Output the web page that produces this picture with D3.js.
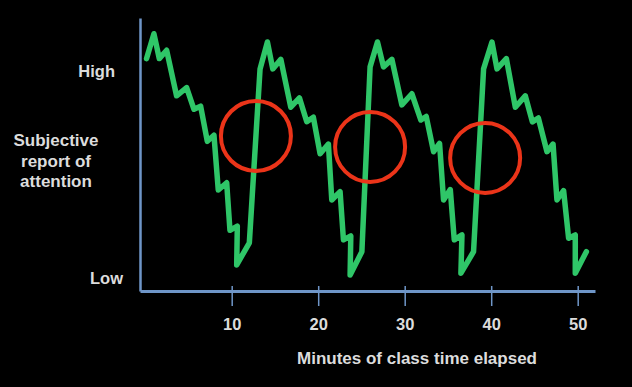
<!DOCTYPE html>
<html>
<head>
<meta charset="utf-8">
<script src="https://cdn.jsdelivr.net/npm/d3@7"></script>
<style>
  html, body { margin: 0; padding: 0; background: #000; }
  svg { display: block; }
  text { font-family: "Liberation Sans", Arial, sans-serif; font-weight: bold; fill: #dcdcdc; }
</style>
</head>
<body>
<div id="chart"></div>
<script>
// Attention over a class: minutes elapsed vs subjective attention (0 = Low, 100 = High)
const minutes = [
  0.16, 1.01, 1.63, 2.48, 3.63, 4.79, 5.64, 6.41, 7.18, 7.95, 8.45, 9.42, 9.80, 10.65, 10.58, 12.04,
  13.28, 14.13, 14.75, 15.68, 16.83, 17.83, 18.68, 19.44, 20.22, 21.18, 21.57, 22.53, 22.92, 23.77, 23.69, 25.05,
  26.00, 26.85, 27.55, 28.52, 29.67, 30.83, 31.87, 32.49, 33.34, 34.03, 34.49, 35.27, 35.73, 36.62, 36.50, 37.96,
  39.12, 40.09, 40.67, 41.75, 42.79, 43.94, 44.76, 45.45, 46.45, 47.15, 47.60, 48.37, 48.95, 49.72, 49.72, 51.00
];
const attention = [
  106, 118, 106, 110, 88, 92, 81.5, 83, 66, 69, 42.5, 46, 23, 25, 6.3, 17,
  101, 114, 101, 105.6, 82.5, 87, 75.5, 77.7, 60, 64.7, 37.7, 41.7, 18.4, 20.3, 1.4, 12.7,
  102, 114, 102, 105.6, 83.6, 89, 76.3, 78, 61, 65, 37.7, 42.7, 18.4, 20.8, 2.3, 12.7,
  101, 114, 101, 106, 82.5, 88, 75.4, 77.3, 61, 64.7, 37.7, 42.2, 19.2, 20.8, 2.3, 12.7
];

// Red circles marking the lapses of attention
const circleMinutes   = [12.8, 26.0, 39.3];
const circleAttention = [68.6, 63.3, 58.0];

const xTicks = [10, 20, 30, 40, 50];
const yTicks = [0, 100];
const yTickLabels = ['Low', 'High'];
const yTitle = ['Subjective', 'report of', 'attention'];
const xTitle = 'Minutes of class time elapsed';

const W = 632, H = 387;
const AXIS = '#6f96c8';

const svg = d3.select('#chart').append('svg')
  .attr('width', W).attr('height', H);

svg.append('rect').attr('width', W).attr('height', H).attr('fill', '#000');

/* ── Scales ─────────────────────────────────────────── */
const x = d3.scaleLinear().domain([-0.6, 52]).range([140, 595]);
const y = d3.scaleLinear().domain([-6.3, 125.6]).range([291, 18]);

/* ── Line ───────────────────────────────────────────── */
const pts = minutes.map((m, i) => ({ m, a: attention[i] }));

svg.append('path').datum(pts)
  .attr('d', d3.line().x(d => x(d.m)).y(d => y(d.a)))
  .attr('fill', 'none')
  .attr('stroke', '#2fc668')
  .attr('stroke-width', 5.5)
  .attr('stroke-linejoin', 'round')
  .attr('stroke-linecap', 'round');

/* ── Circles ────────────────────────────────────────── */
svg.selectAll('circle.lapse')
  .data(circleMinutes.map((m, i) => ({ m, a: circleAttention[i] })))
  .join('circle')
  .attr('class', 'lapse')
  .attr('cx', d => x(d.m))
  .attr('cy', d => y(d.a))
  .attr('r', 35)
  .attr('fill', 'none')
  .attr('stroke', '#eb3419')
  .attr('stroke-width', 4);

/* ── Axes ───────────────────────────────────────────── */
const xAxis = svg.append('g')
  .attr('transform', `translate(0,${y.range()[0]})`)
  .call(d3.axisBottom(x).tickValues(xTicks).tickSize(15).tickPadding(12).tickSizeOuter(0));
xAxis.select('.domain').attr('stroke', AXIS).attr('stroke-width', 3);
xAxis.selectAll('.tick line').attr('y1', -5).attr('stroke', AXIS).attr('stroke-width', 1.5);
xAxis.selectAll('text').attr('font-size', '16.5px').attr('fill', '#dcdcdc').attr('font-family', null);

const yAxis = svg.append('g')
  .attr('transform', `translate(${x.range()[0]},0)`)
  .call(d3.axisLeft(y).tickValues(yTicks).tickFormat((d, i) => yTickLabels[i])
    .tickSize(0).tickPadding(17).tickSizeOuter(0));
yAxis.select('.domain').attr('stroke', AXIS).attr('stroke-width', 2.5);
yAxis.selectAll('text').attr('font-size', '16.5px').attr('fill', '#dcdcdc').attr('font-family', null)
  .attr('dx', (d, i) => i === 1 ? -8 : 0);

/* ── Titles ─────────────────────────────────────────── */
svg.append('text')
  .attr('x', 56).attr('y', 146)
  .attr('text-anchor', 'middle')
  .attr('font-size', '17px')
  .selectAll('tspan').data(yTitle).join('tspan')
  .attr('x', 56).attr('dy', (d, i) => i ? 20.5 : 0)
  .text(d => d);

svg.append('text')
  .attr('x', 417).attr('y', 364)
  .attr('text-anchor', 'middle')
  .attr('font-size', '17px')
  .text(xTitle);
</script>
</body>
</html>
